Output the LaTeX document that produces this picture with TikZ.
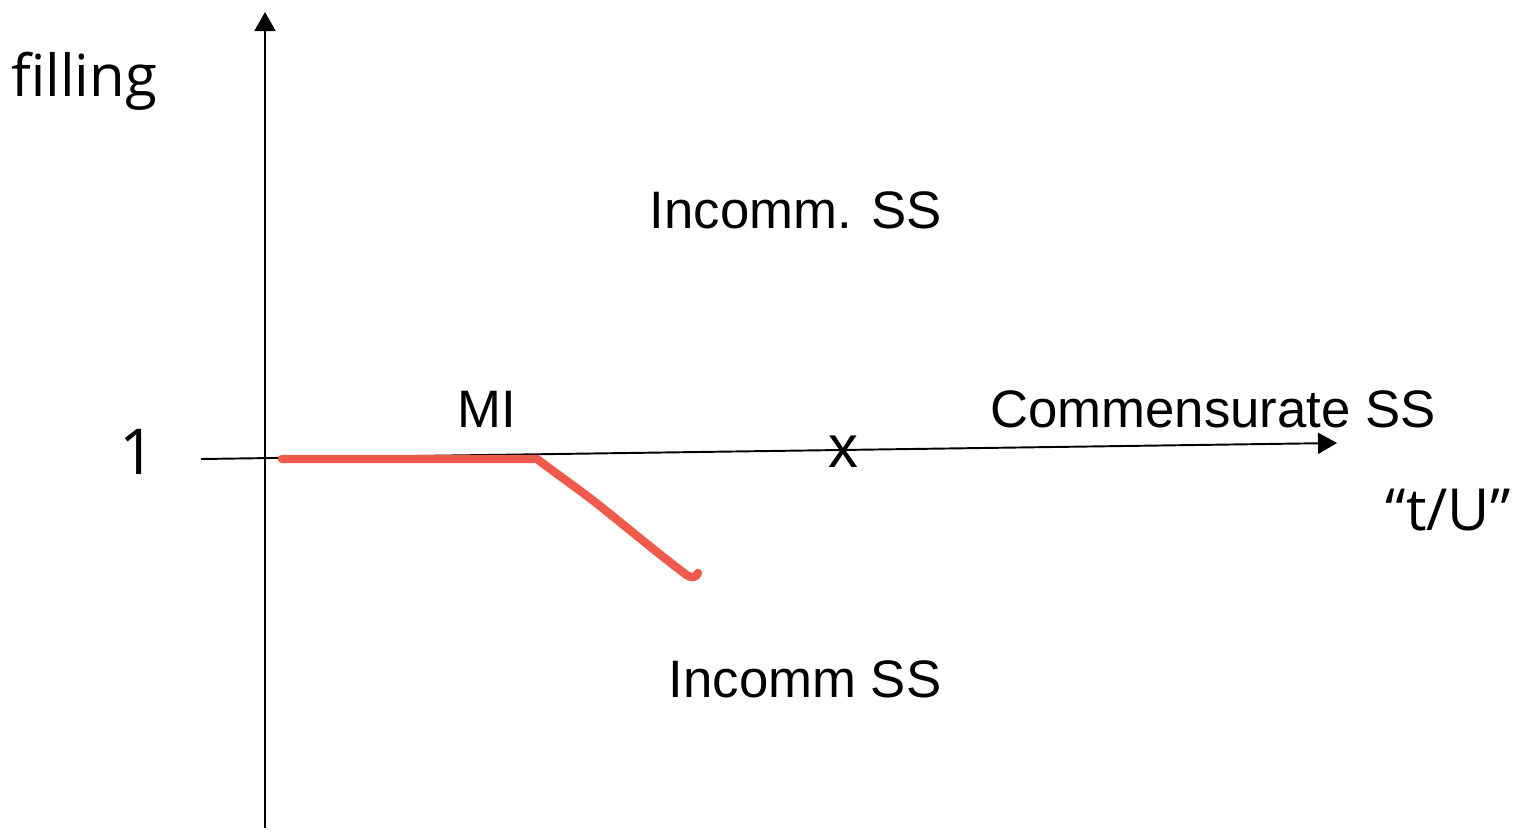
\documentclass[tikz,border=0pt]{standalone}
\usepackage{fontspec}
\setmainfont{Liberation Sans}
\newfontfamily\osans{Open Sans}
\usetikzlibrary{arrows.meta}
\definecolor{curvered}{RGB}{240,90,75}
\tikzset{
  axis/.style={line width=0.55pt, -{Triangle[length=0.19cm,width=0.21cm]}},
  lbl/.style={inner sep=0pt, anchor=base, font=\fontsize{15}{18}\selectfont},
  biglbl/.style={inner sep=0pt, anchor=base, font=\osans\fontsize{16.5}{19}\selectfont},
  boundary/.style={draw=curvered, line width=2.4pt, line cap=round, line join=round}
}
\begin{document}
\begin{tikzpicture}[x=0.01cm,y=-0.01cm]
\useasboundingbox (0,0) rectangle (1522,833);
% axes
\coordinate (ybot) at (265,828);
\coordinate (ytop) at (265,12);
\coordinate (xleft) at (201,459);
\coordinate (xright) at (1337,443);
\draw[axis] (ybot) -- (ytop);
\draw[axis] (xleft) -- (xright);
% red boundary
\coordinate (r0) at (282,459);
\coordinate (r1) at (537,459);
\coordinate (r2) at (600,506);
\coordinate (r3) at (684,573);
\coordinate (r4) at (698,573);
\draw[boundary] (r0) -- (r1) .. controls (558,475) and (580,490) .. (r2)
  .. controls (630,530) and (660,555) .. (r3) .. controls (691,579) and (696,578) .. (r4);
% labels
\node[biglbl] (filling) at (84,96) {filling};
\node[biglbl, font=\osans\fontsize{18}{21}\selectfont] (one) at (138,474) {1};
\node[biglbl] (tU) at (1448,530) {“t/U”};
\node[lbl] (incup) at (796,228) {Incomm. SS};
\node[lbl] (mi) at (487,427) {MI};
\node[lbl] (comm) at (1213,427) {Commensurate SS};
\node[lbl, font=\fontsize{17}{20}\selectfont] (xmark) at (843,467) {x};
\node[lbl] (incdown) at (805,697) {Incomm SS};
\end{tikzpicture}
\end{document}
